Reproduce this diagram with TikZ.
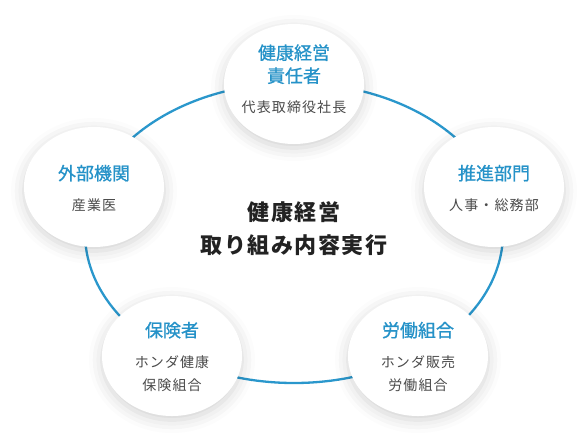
\documentclass[tikz,border=0pt]{standalone}
\usepackage{fontspec}
\setmainfont{Noto Sans CJK JP}
\usepackage{xcolor}
\usetikzlibrary{shapes.geometric, shadows.blur}

\definecolor{ringblue}{HTML}{2A97CC}
\definecolor{ttlblue}{HTML}{2592C8}
\definecolor{subgray}{HTML}{4A4A4A}
\definecolor{maindark}{HTML}{222222}

\newcommand{\headtxt}[1]{{\color{ttlblue}\fontsize{18}{23}\selectfont\addfontfeature{FakeBold=0.9}#1}}
\newcommand{\subtxt}[1]{{\color{subgray}\addfontfeature{LetterSpace=8}#1}}

\begin{document}
\begin{tikzpicture}[
    x=1pt, y=-1pt,
    font=\fontsize{14}{23}\selectfont,
    member/.style={ellipse, fill=white, minimum width=140pt, minimum height=120pt, inner sep=0pt,
        blur shadow={shadow xshift=0pt, shadow yshift=-4pt, shadow blur radius=13pt, shadow opacity=18}},
    caption/.style={align=center, inner sep=0pt},
    ring/.style={draw=ringblue, line width=2.3pt}
]
\useasboundingbox (0,0) rectangle (588,440);

% --- Ring ---
\coordinate (ctr) at (294,233);
\draw[ring] (ctr) ellipse [x radius=209, y radius=150];

% --- Center ---
\node[caption, text=maindark, font=\fontsize{22}{33}\selectfont\bfseries\addfontfeature{LetterSpace=7}] (goal) at (294,229) {健康経営\\取り組み内容実行};

% --- Members ---
\node[member] (ceo) at (294,84) {};
\node[caption] (ceo-t) at (294,79) {\headtxt{健康経営}\\\headtxt{責任者}\\[7pt]\subtxt{代表取締役社長}};

\node[member] (ext) at (94,187) {};
\node[caption] (ext-t) at (94,188) {\headtxt{外部機関}\\[7pt]\subtxt{産業医}};

\node[member] (dept) at (494,187) {};
\node[caption] (dept-t) at (494,188) {\headtxt{推進部門}\\[7pt]\subtxt{人事・総務部}};

\node[member] (ins) at (172,356) {};
\node[caption] (ins-t) at (172,357) {\headtxt{保険者}\\[8pt]\subtxt{ホンダ健康}\\\subtxt{保険組合}};

\node[member] (union) at (418,356) {};
\node[caption] (union-t) at (418,357) {\headtxt{労働組合}\\[8pt]\subtxt{ホンダ販売}\\\subtxt{労働組合}};

\end{tikzpicture}
\end{document}
